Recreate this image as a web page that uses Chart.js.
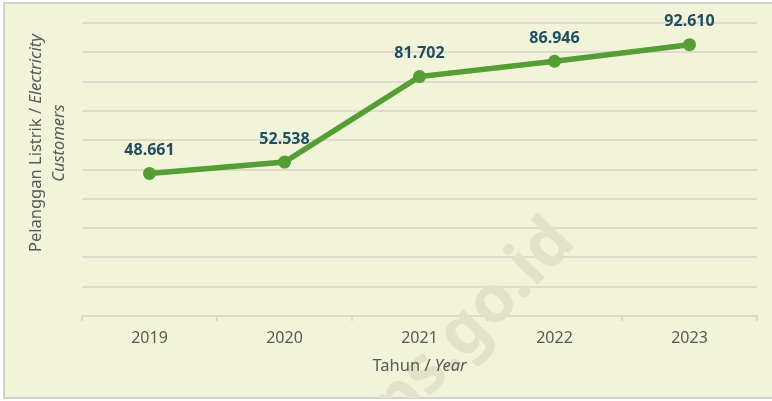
<!DOCTYPE html>
<html>
<head>
<meta charset="UTF-8">
<title>Pelanggan Listrik</title>
<script src="https://cdn.jsdelivr.net/npm/chart.js"></script>
<style>
  html, body { margin: 0; padding: 0; background: #ffffff; }
  #wrap { width: 772px; height: 401px; }
</style>
</head>
<body>
<div id="wrap"><canvas id="customerChart"></canvas></div>
<script>
const years = ['2019', '2020', '2021', '2022', '2023'];
const customers = [48661, 52538, 81702, 86946, 92610];
const yTicks = [0, 10000, 20000, 30000, 40000, 50000, 60000, 70000, 80000, 90000, 100000];

const FONT = '"Noto Sans", "Open Sans", sans-serif';
const GREEN = 'rgb(84, 158, 52)';
const LABEL_COLOR = 'rgb(31, 78, 96)';
const TEXT_GREY = 'rgb(89, 89, 89)';

function formatId(v) {
    return String(v).replace(/\B(?=(\d{3})+(?!\d))/g, '.');
}

// draws text made of plain/italic parts, centred on x
function drawMixed(ctx, parts, x, y, size) {
    let total = 0;
    parts.forEach(p => {
        ctx.font = (p.italic ? 'italic ' : '') + size + 'px ' + FONT;
        p.w = ctx.measureText(p.text).width;
        total += p.w;
    });
    let cx = x - total / 2;
    parts.forEach(p => {
        ctx.font = (p.italic ? 'italic ' : '') + size + 'px ' + FONT;
        ctx.fillText(p.text, cx, y);
        cx += p.w;
    });
}

const backgroundPlugin = {
    id: 'background',
    beforeDraw(chart) {
        const ctx = chart.ctx;
        ctx.save();
        ctx.fillStyle = '#ffffff';
        ctx.fillRect(0, 0, chart.width, chart.height);
        ctx.fillStyle = 'rgb(242, 244, 218)';
        ctx.fillRect(5, 3, chart.width - 5, 395);
        ctx.strokeStyle = 'rgb(210, 210, 205)';
        ctx.lineWidth = 2;
        ctx.beginPath();
        ctx.moveTo(chart.width, 3);
        ctx.lineTo(4, 3);
        ctx.lineTo(4, 398);
        ctx.lineTo(chart.width, 398);
        ctx.stroke();
        ctx.restore();
    },
    beforeDatasetsDraw(chart) {
        // faint watermark
        const ctx = chart.ctx;
        ctx.save();
        ctx.beginPath();
        ctx.rect(5, 3, chart.width - 5, 395);
        ctx.clip();
        ctx.translate(460, 338);
        ctx.rotate(-46 * Math.PI / 180);
        ctx.font = 'bold 66px ' + FONT;
        ctx.fillStyle = 'rgb(225, 226, 198)';
        ctx.textAlign = 'center';
        ctx.textBaseline = 'middle';
        ctx.fillText('bps.go.id', 0, 0);
        ctx.restore();
    }
};

const labelsPlugin = {
    id: 'pointLabels',
    afterDatasetsDraw(chart) {
        const ctx = chart.ctx;
        const meta = chart.getDatasetMeta(0);
        ctx.save();
        ctx.font = 'bold 16px ' + FONT;
        ctx.fillStyle = LABEL_COLOR;
        ctx.textAlign = 'center';
        ctx.textBaseline = 'middle';
        meta.data.forEach((pt, i) => {
            ctx.fillText(formatId(customers[i]), pt.x, pt.y - 23);
        });
        ctx.restore();
    },
    afterDraw(chart) {
        const ctx = chart.ctx;
        const area = chart.chartArea;
        ctx.save();
        ctx.fillStyle = TEXT_GREY;
        ctx.textBaseline = 'middle';
        ctx.textAlign = 'left';
        drawMixed(ctx, [{ text: 'Tahun / ' }, { text: 'Year', italic: true }],
            (area.left + area.right) / 2, 366, 16.5);
        ctx.translate(36, 143);
        ctx.rotate(-Math.PI / 2);
        drawMixed(ctx, [{ text: 'Pelanggan Listrik / ' }, { text: 'Electricity', italic: true }], 0, 0, 16.5);
        drawMixed(ctx, [{ text: 'Customers', italic: true }], 0, 23, 16.5);
        ctx.restore();
    }
};

new Chart(document.getElementById('customerChart'), {
    type: 'line',
    data: {
        labels: years,
        datasets: [{
            label: 'Pelanggan Listrik',
            data: customers,
            borderColor: GREEN,
            backgroundColor: GREEN,
            borderWidth: 5.5,
            pointRadius: 6.5,
            pointHoverRadius: 6.5,
            pointBackgroundColor: GREEN,
            pointBorderWidth: 0,
            tension: 0
        }]
    },
    options: {
        responsive: true,
        maintainAspectRatio: false,
        animation: false,
        layout: { padding: { left: 0, top: 23, right: 15, bottom: 0 } },
        plugins: {
            legend: { display: false },
            tooltip: { enabled: false }
        },
        scales: {
            x: {
                offset: true,
                afterFit: scale => { scale.height = 85; },
                grid: {
                    offset: true,
                    drawOnChartArea: false,
                    drawTicks: true,
                    tickLength: 5,
                    color: 'rgb(220, 217, 202)',
                    lineWidth: 2
                },
                border: { display: true, color: 'rgb(220, 217, 202)', width: 2 },
                ticks: {
                    color: TEXT_GREY,
                    font: { family: FONT, size: 16 },
                    padding: 8
                }
            },
            y: {
                min: yTicks[0],
                max: yTicks[yTicks.length - 1],
                afterFit: scale => { scale.width = 82; },
                afterBuildTicks: scale => { scale.ticks = yTicks.map(v => ({ value: v })); },
                border: { display: false },
                grid: {
                    color: 'rgb(222, 219, 204)',
                    lineWidth: 2,
                    drawTicks: false
                },
                ticks: { display: false }
            }
        }
    },
    plugins: [backgroundPlugin, labelsPlugin]
});
</script>
</body>
</html>
